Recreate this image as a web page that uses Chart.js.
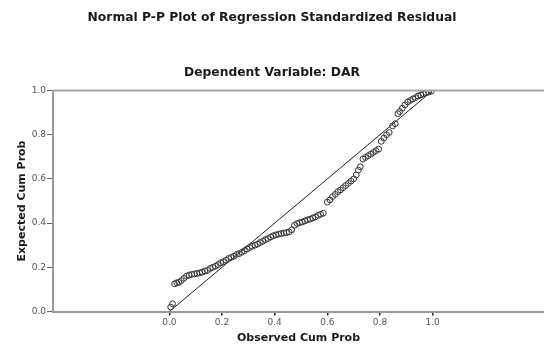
<!DOCTYPE html>
<html>
<head>
<meta charset="utf-8">
<script src="https://cdn.jsdelivr.net/npm/chart.js@4/dist/chart.umd.min.js"></script>
<style>
html,body{margin:0;padding:0;background:#fff;}
#wrap{width:544px;height:347px;}
</style>
</head>
<body>
<div id="wrap"><canvas id="c" width="544" height="347"></canvas></div>
<script>
const chartTitle = "Normal P-P Plot of Regression Standardized Residual";
const chartSubtitle = "Dependent Variable: DAR";
const xAxisTitle = "Observed Cum Prob";
const yAxisTitle = "Expected Cum Prob";
const xTickValues = [0.0, 0.2, 0.4, 0.6, 0.8, 1.0];
const yTickValues = [0.0, 0.2, 0.4, 0.6, 0.8, 1.0];
const refLineX = [0, 1];
const refLineY = [0, 1];

const obsCumProb = [
  0.005,0.012,0.020,0.028,0.036,0.045,0.055,0.065,0.075,0.085,
  0.095,0.105,0.115,0.125,0.135,0.145,0.155,0.165,0.175,0.185,
  0.195,0.205,0.215,0.225,0.235,0.245,0.255,0.265,0.275,0.285,
  0.295,0.305,0.315,0.325,0.335,0.345,0.355,0.365,0.375,0.385,
  0.395,0.405,0.415,0.425,0.435,0.445,0.455,0.465,0.475,0.485,
  0.495,0.505,0.515,0.525,0.535,0.545,0.555,0.565,0.575,0.585,
  0.600,0.610,0.620,0.630,0.640,0.650,0.660,0.670,0.680,0.690,
  0.700,0.710,0.718,0.725,0.735,0.745,0.755,0.765,0.775,0.785,
  0.795,0.805,0.815,0.825,0.835,0.848,0.858,0.868,0.875,0.885,
  0.895,0.905,0.915,0.925,0.935,0.945,0.955,0.965,0.975,0.985,0.995
];
const expCumProb = [
  0.020,0.035,0.125,0.130,0.132,0.140,0.150,0.160,0.165,0.168,
  0.170,0.172,0.175,0.178,0.183,0.186,0.195,0.200,0.205,0.212,
  0.220,0.225,0.232,0.240,0.245,0.250,0.258,0.262,0.268,0.275,
  0.283,0.290,0.295,0.300,0.305,0.312,0.318,0.325,0.330,0.337,
  0.343,0.347,0.350,0.353,0.355,0.357,0.360,0.370,0.390,0.398,
  0.402,0.405,0.410,0.415,0.418,0.423,0.428,0.435,0.440,0.445,
  0.495,0.505,0.520,0.530,0.542,0.550,0.560,0.570,0.580,0.590,
  0.600,0.618,0.640,0.655,0.690,0.697,0.705,0.712,0.720,0.728,
  0.735,0.770,0.785,0.800,0.810,0.840,0.850,0.895,0.905,0.920,
  0.935,0.948,0.955,0.962,0.968,0.975,0.980,0.985,0.990,0.993,0.997
];

const points = obsCumProb.map((x, i) => ({x: x, y: expCumProb[i]}));
const refLine = refLineX.map((x, i) => ({x: x, y: refLineY[i]}));

const FONT = "'DejaVu Sans', 'Liberation Sans', Arial, sans-serif";

const topFrame = {
  id: 'topFrame',
  afterDraw(chart) {
    const {ctx, chartArea} = chart;
    ctx.save();
    ctx.strokeStyle = '#a8a8a8';
    ctx.lineWidth = 2;
    ctx.beginPath();
    ctx.moveTo(chartArea.left, chartArea.top);
    ctx.lineTo(chartArea.right, chartArea.top);
    ctx.stroke();
    ctx.restore();
  }
};

new Chart(document.getElementById('c'), {
  type: 'scatter',
  data: {
    datasets: [
      {
        type: 'line',
        data: refLine,
        borderColor: '#222',
        borderWidth: 1,
        pointRadius: 0,
        fill: false,
        order: 2
      },
      {
        data: points,
        pointStyle: 'circle',
        pointRadius: 2.9,
        borderWidth: 1,
        borderColor: '#333',
        backgroundColor: 'rgba(0,0,0,0)',
        order: 1
      }
    ]
  },
  options: {
    responsive: false,
    animation: false,
    layout: {padding: 0, autoPadding: false},
    plugins: {
      legend: {display: false},
      tooltip: {enabled: false},
      title: {
        display: true,
        text: chartTitle,
        color: '#1a1a1a',
        font: {family: FONT, size: 12.3, weight: 'bold'},
        padding: {top: 10, bottom: 0}
      },
      subtitle: {
        display: true,
        text: chartSubtitle,
        color: '#1a1a1a',
        font: {family: FONT, size: 12.3, weight: 'bold'},
        padding: {top: 40.3, bottom: 10.7}
      }
    },
    scales: {
      x: {
        type: 'linear',
        min: -0.442,
        max: 1.423,
        afterBuildTicks(scale) { scale.ticks = xTickValues.map(v => ({value: v})); },
        afterFit(scale) { scale.height = 35.5; scale.paddingLeft = 0; scale.paddingRight = 0; },
        grid: {drawOnChartArea: false, drawTicks: true, tickLength: 4, color: '#222', lineWidth: 1.5},
        border: {display: true, color: '#9a9a9a', width: 2},
        ticks: {
          color: '#555',
          font: {family: FONT, size: 9},
          padding: 2,
          callback: v => Number(v).toFixed(1)
        },
        title: {
          display: true,
          text: xAxisTitle,
          color: '#1a1a1a',
          font: {family: FONT, size: 11, weight: 'bold'},
          padding: {top: 0, bottom: 2}
        }
      },
      y: {
        type: 'linear',
        min: 0,
        max: 1,
        afterBuildTicks(scale) { scale.ticks = yTickValues.map(v => ({value: v})); },
        afterFit(scale) { scale.width = 53; },
        grid: {drawOnChartArea: false, drawTicks: true, tickLength: 6, color: '#666', lineWidth: 1},
        border: {display: true, color: '#9a9a9a', width: 2},
        ticks: {
          color: '#555',
          font: {family: FONT, size: 9},
          padding: 1,
          callback: v => Number(v).toFixed(1)
        },
        title: {
          display: true,
          text: yAxisTitle,
          color: '#1a1a1a',
          font: {family: FONT, size: 11, weight: 'bold'},
          padding: {top: 15.4, bottom: 0}
        }
      }
    }
  },
  plugins: [topFrame]
});
</script>
</body>
</html>
